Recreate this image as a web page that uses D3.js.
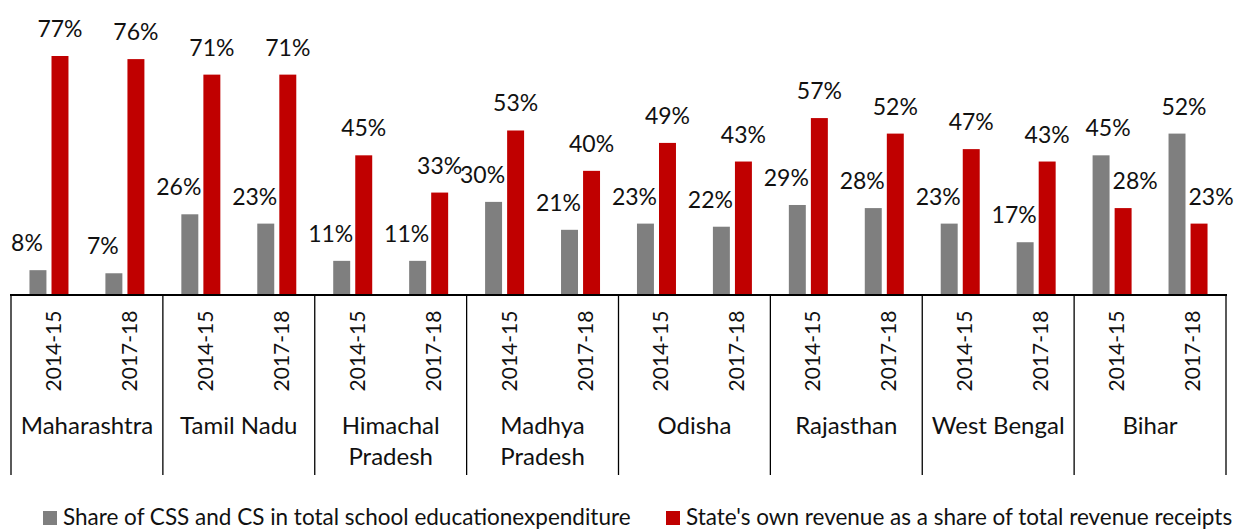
<!DOCTYPE html>
<html>
<head>
<meta charset="utf-8">
<script src="https://cdn.jsdelivr.net/npm/d3@7"></script>
<style>
  body { margin: 0; background: #fff; }
  svg { display: block; font-family: Lato, "Open Sans", sans-serif; }
</style>
</head>
<body>
<div id="plot"></div>
<script>
// data
const states = ["Maharashtra", "Tamil Nadu", "Himachal Pradesh", "Madhya Pradesh",
                "Odisha", "Rajasthan", "West Bengal", "Bihar"];
const stateLines = [["Maharashtra"], ["Tamil Nadu"], ["Himachal", "Pradesh"], ["Madhya", "Pradesh"],
                    ["Odisha"], ["Rajasthan"], ["West Bengal"], ["Bihar"]];
const years = ["2014-15", "2017-18"];
// Share of CSS and CS in total school education expenditure
const cssShare = [[8, 7], [26, 23], [11, 11], [30, 21], [23, 22], [29, 28], [23, 17], [45, 52]];
// State's own revenue as a share of total revenue receipts
const ownRevenue = [[77, 76], [71, 71], [45, 33], [53, 40], [49, 43], [57, 52], [47, 43], [28, 23]];
const seriesNames = ["Share of CSS and CS in total school educationexpenditure",
                     "State's own revenue as a share of total revenue receipts"];
const colors = ["#7f7f7f", "#c00000"];

window.addEventListener("load", main);

function main(){
  const width = 1236, height = 529;
  const axisY = 295;

  const svg = d3.select("#plot").append("svg")
    .attr("width", width).attr("height", height);

  const x0 = d3.scaleBand().domain(states).range([11, 1226]);
  const x1 = d3.scaleBand().domain(years).range([0, x0.bandwidth()]);
  const xs = d3.scaleBand().domain([0, 1]).range([-19.5, 19.5]).paddingInner(0.23);
  const y = d3.scaleLinear().domain([0, 77]).range([axisY, 56]);

  // flatten
  let rows = [];
  states.forEach((s, i) => {
    years.forEach((yr, j) => {
      const g = cssShare[i][j], r = ownRevenue[i][j];
      rows.push({state: s, year: yr, series: 0, value: g, other: r});
      rows.push({state: s, year: yr, series: 1, value: r, other: g});
    });
  });

  const cx = d => x0(d.state) + x1(d.year) + x1.bandwidth() / 2;

  svg.append("g").selectAll("rect")
    .data(rows)
    .join("rect")
      .attr("x", d => cx(d) + xs(d.series))
      .attr("width", xs.bandwidth())
      .attr("y", d => y(d.value))
      .attr("height", d => axisY - y(d.value))
      .attr("fill", d => colors[d.series]);

  // labels were nudged sideways so they don't run into the taller neighbour bar
  function labelShift(d){
    if (d.series === 0) return d.value < d.other ? -11 : 7;
    return d.value < d.other ? 12 : 0;
  }
  svg.append("g").selectAll("text")
    .data(rows)
    .join("text")
      .attr("x", d => cx(d) + xs(d.series) + xs.bandwidth() / 2 + labelShift(d))
      .attr("y", d => y(d.value) - 19)
      .attr("text-anchor", "middle")
      .attr("font-size", 23)
      .attr("fill", "#111")
      .text(d => d.value + "%");

  // axis line + group separators
  svg.append("line")
    .attr("x1", 10).attr("x2", 1227).attr("y1", axisY).attr("y2", axisY)
    .attr("stroke", "#000").attr("stroke-width", 2);
  const seps = states.map(s => x0(s)).concat([x0.range()[1]]);
  svg.append("g").selectAll("line")
    .data(seps)
    .join("line")
      .attr("x1", d => d).attr("x2", d => d)
      .attr("y1", axisY).attr("y2", 475)
      .attr("stroke", "#000").attr("stroke-width", 1.3);

  // rotated year labels
  const yearLabels = [];
  states.forEach(s => years.forEach(yr => yearLabels.push({state: s, year: yr})));
  svg.append("g").selectAll("text")
    .data(yearLabels)
    .join("text")
      .attr("transform", d => `translate(${x0(d.state) + x1(d.year) + x1.bandwidth() / 2 + 12},351) rotate(-90)`)
      .attr("text-anchor", "middle")
      .attr("font-size", 21)
      .attr("fill", "#111")
      .text(d => d.year);

  // state names
  const names = svg.append("g").selectAll("text")
    .data(states)
    .join("text")
      .attr("x", d => x0(d) + x0.bandwidth() / 2)
      .attr("y", 434)
      .attr("text-anchor", "middle")
      .attr("font-size", 24)
      .attr("fill", "#111");
  names.selectAll("tspan")
    .data((d, i) => stateLines[i])
    .join("tspan")
      .attr("x", function(){ return d3.select(this.parentNode).attr("x"); })
      .attr("dy", (d, i) => i === 0 ? 0 : 31)
      .text(d => d);

  // legend
  const legX = [43, 666];
  const leg = svg.append("g").selectAll("g")
    .data(seriesNames)
    .join("g")
      .attr("transform", (d, i) => `translate(${legX[i]},511)`);
  leg.append("rect").attr("width", 14).attr("height", 14).attr("fill", (d, i) => colors[i]);
  leg.append("text")
    .attr("x", 20).attr("y", 14)
    .attr("font-size", 22.5)
    .attr("fill", "#111")
    .text(d => d);
}
</script>
</body>
</html>
